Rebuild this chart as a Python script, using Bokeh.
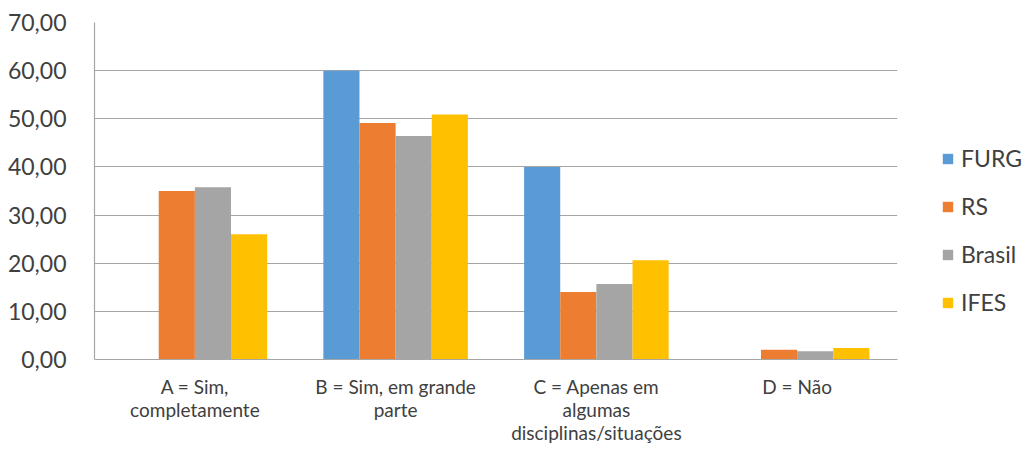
from bokeh.plotting import figure
from bokeh.models import ColumnDataSource, FactorRange, Range1d, FixedTicker, CustomJSTickFormatter, Legend, LegendItem
from bokeh.transform import dodge
from bokeh.embed import file_html
from bokeh.resources import INLINE

categories = ["A = Sim,\ncompletamente", "B = Sim, em grande\nparte", "C = Apenas em\nalgumas\ndisciplinas/situações", "D = Não"]
series = ["FURG", "RS", "Brasil", "IFES"]
furg = [0.0, 60.0, 40.0, 0.0]
rs = [35.0, 49.1, 14.0, 2.0]
brasil = [35.8, 46.4, 15.7, 1.7]
ifes = [26.0, 50.9, 20.6, 2.4]
colors = ["#5B9BD5", "#ED7D31", "#A5A5A5", "#FFC000"]

source = ColumnDataSource(dict(cat=categories, FURG=furg, RS=rs, Brasil=brasil, IFES=ifes))

FONT = "Lato"
TEXT = "#404040"
GRID = "#A6A6A6"

p = figure(x_range=FactorRange(*categories), y_range=Range1d(0, 70),
           frame_width=803, frame_height=337, output_backend="svg", toolbar_location=None,
           min_border_left=94, min_border_right=125, min_border_top=22, min_border_bottom=85)

offsets = [-0.27, -0.09, 0.09, 0.27]
items = []
for s, off, c in zip(series, offsets, colors):
    r = p.vbar(x=dodge("cat", off, range=p.x_range), top=s, width=0.18, source=source,
               fill_color=c, line_color=None)
    items.append(LegendItem(label=s, renderers=[r]))

legend = Legend(items=items, location=(44, 43), border_line_color=None, background_fill_alpha=0,
                label_text_font=FONT, label_text_font_size="23px", label_text_color=TEXT,
                glyph_width=13, glyph_height=13, spacing=20, label_standoff=7, margin=0, padding=0)
p.add_layout(legend, "right")

p.outline_line_color = None
p.background_fill_color = "white"
p.xgrid.grid_line_color = None
p.ygrid.grid_line_color = GRID
p.ygrid.grid_line_width = 1.2

p.yaxis.ticker = FixedTicker(ticks=[0, 10, 20, 30, 40, 50, 60, 70])
p.yaxis.formatter = CustomJSTickFormatter(code="return tick.toFixed(2).replace('.', ',');")
p.yaxis.major_tick_line_color = None
p.yaxis.minor_tick_line_color = None
p.yaxis.axis_line_color = GRID
p.yaxis.axis_line_width = 1.2
p.yaxis.major_label_text_font = FONT
p.yaxis.major_label_text_font_size = "23px"
p.yaxis.major_label_text_color = TEXT
p.yaxis.major_label_standoff = 22

p.xaxis.major_tick_line_color = None
p.xaxis.minor_tick_line_color = None
p.xaxis.axis_line_color = GRID
p.xaxis.axis_line_width = 1.2
p.xaxis.major_label_text_font = FONT
p.xaxis.major_label_text_font_size = "19px"
p.xaxis.major_label_text_color = TEXT
p.xaxis.major_label_standoff = 9
p.xaxis.major_label_text_line_height = 1.0
p.x_range.range_padding = 0
p.x_range.group_padding = 0

open("out.html", "w").write(file_html(p, INLINE))
